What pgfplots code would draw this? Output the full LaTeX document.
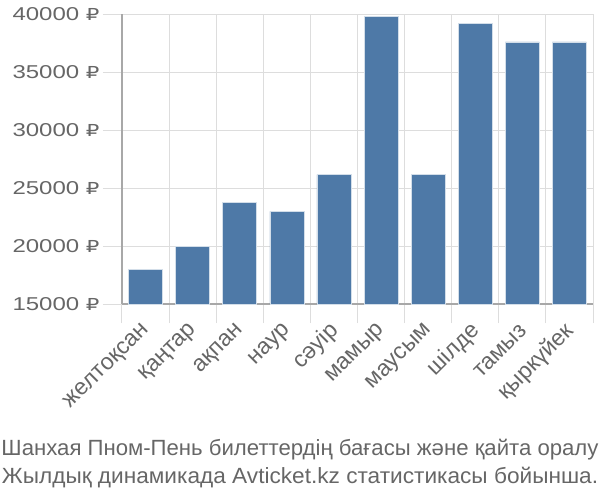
\documentclass[border=0pt]{standalone}
\usepackage{fontspec}
\setmainfont{Liberation Sans}
\newfontfamily\rubfont{DejaVu Sans}
\usepackage{pgfplots}
\pgfplotsset{compat=1.18}
\definecolor{barc}{HTML}{4E79A7}
\definecolor{txt}{HTML}{666666}
\definecolor{gridc}{HTML}{DDDDDD}
\definecolor{axl}{HTML}{A8A8A8}
\newcommand{\wide}[1]{\scalebox{1.29}[1]{#1}}
\begin{document}
\begin{tikzpicture}
\begin{axis}[name=ax, scale only axis, width=471bp, height=290bp,
  xmin=-0.5, xmax=9.5, ymin=15000, ymax=40000,
  axis x line=bottom, axis y line=left,
  axis line style={-, draw=axl, line width=1.2bp},
  tick align=outside, major tick length=19bp,
  tick style={draw=gridc, line width=1bp},
  grid style={draw=gridc, line width=1bp},
  xmajorgrids, ymajorgrids,
  xtick={-0.5,0.5,...,9.5}, xticklabels={},
  extra x ticks={0,1,2,3,4,5,6,7,8,9},
  extra x tick labels={желтоқсан,қаңтар,ақпан,наур,сәуір,мамыр,маусым,шілде,тамыз,қыркүйек},
  extra x tick style={grid=none, tick style={draw=none}, tick label style={rotate=45, anchor=east, yshift=-4bp, xshift=1bp, font=\fontsize{23bp}{26bp}\selectfont}},
  ytick={15000,20000,25000,30000,35000,40000},
  scaled y ticks=false,
  yticklabel={\wide{\pgfmathprintnumber{\tick}~{\rubfont\fontsize{16.5bp}{20bp}\selectfont ₽}}},
  /pgf/number format/.cd, fixed, set thousands separator={}, assume math mode=true, /pgfplots/.cd,
  ticklabel style={text=txt, font=\fontsize{18.6bp}{22bp}\selectfont},
]
\addplot[ybar, bar width=0.72, fill=barc, draw=white!75!barc, line width=0.6bp] coordinates {
 (0,17990) (1,19950) (2,23730) (3,22990) (4,26150) (5,39770) (6,26150) (7,39200) (8,37590) (9,37590)};
\end{axis}
\node[anchor=base, text=txt, font=\fontsize{22bp}{26bp}\selectfont] at (178bp,-151bp) {\resizebox{597bp}{\height}{Шанхая Пном-Пень билеттердің бағасы және қайта оралу}};
\node[anchor=base, text=txt, font=\fontsize{22bp}{26bp}\selectfont] at (178bp,-179bp) {\resizebox{596bp}{\height}{Жылдық динамикада Avticket.kz статистикасы бойынша.}};
\pgfresetboundingbox
\useasboundingbox (-122bp,-196bp) rectangle (478bp,304bp);
\end{tikzpicture}
\end{document}
